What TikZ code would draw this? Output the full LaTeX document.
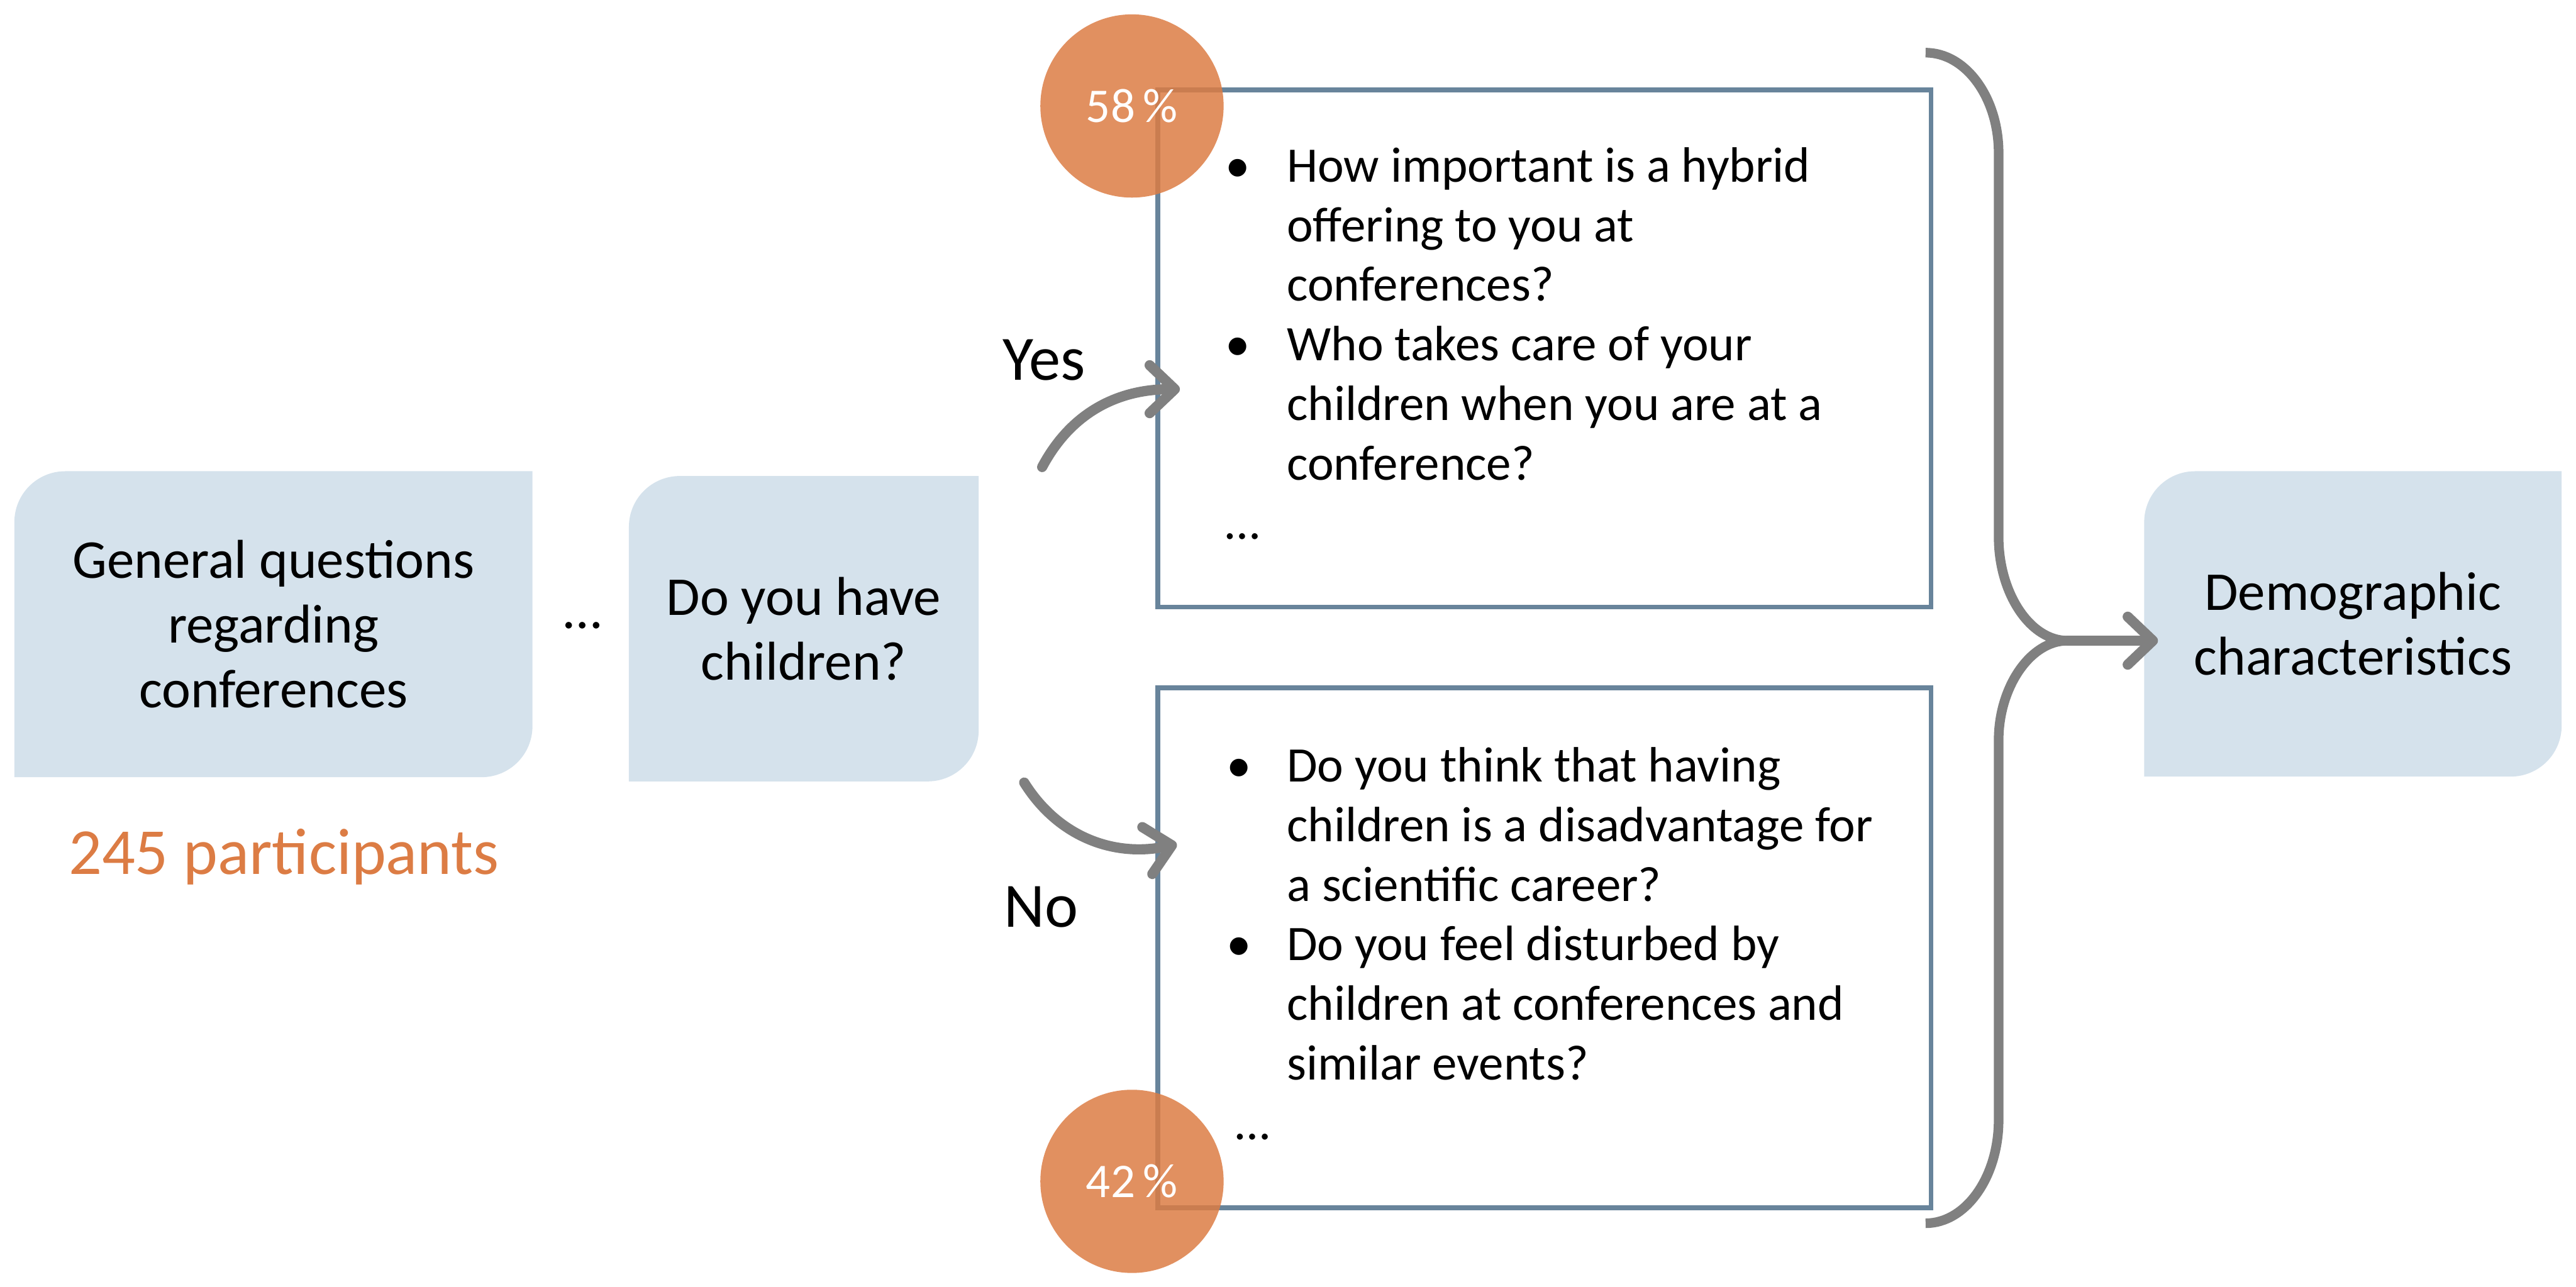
\documentclass[tikz,border=0pt]{standalone}
\usepackage{fontspec}
\setmainfont{Carlito}
\usetikzlibrary{arrows.meta}
\definecolor{leafblue}{RGB}{213,226,236}
\definecolor{framegray}{RGB}{104,132,155}
\definecolor{flowgray}{RGB}{128,128,128}
\definecolor{shareorange}{RGB}{220,124,68}

\begin{document}
\begin{tikzpicture}[
  leafbox/.style={rectangle, inner sep=0, align=center, font=\fontsize{26}{30.7}\selectfont,
    path picture={\fill[leafblue] (path picture bounding box.south west)
      -- ([yshift=-0.85cm]path picture bounding box.north west)
      arc[start angle=180,end angle=90,radius=0.85cm]
      -- (path picture bounding box.north east)
      -- ([yshift=0.85cm]path picture bounding box.south east)
      arc[start angle=0,end angle=-90,radius=0.85cm] -- cycle;}},
  qframe/.style={rectangle, draw=framegray, line width=0.08cm, minimum width=12.91cm, inner sep=0},
  qlist/.style={anchor=base west, inner sep=0, font=\fontsize{23.6}{28.3}\selectfont},
  share/.style={circle, fill=shareorange, fill opacity=0.85, text opacity=1, text=white,
    minimum size=3.06cm, inner sep=0, font=\fontsize{23}{28}\selectfont},
  answer/.style={anchor=base, inner sep=0, font=\fontsize{30}{36}\selectfont},
  flow/.style={draw=flowgray, line width=0.17cm, line cap=round,
    -{Straight Barb[length=0.42cm,width=0.8cm,round]}},
  brace/.style={draw=flowgray, line width=0.16cm}
]
\useasboundingbox (0,0) rectangle (43.01,21.49);
\node[leafbox, minimum width=8.65cm, minimum height=5.11cm] (general) at (4.565,11.065) {General questions\\regarding\\conferences};
\node[leafbox, minimum width=5.84cm, minimum height=5.10cm] (kids) at (13.42,10.99) {Do you have\\children?};
\node[leafbox, minimum width=6.97cm, minimum height=5.10cm] (demo) at (39.285,11.07) {Demographic\\characteristics};
\node[anchor=base, inner sep=0, font=\fontsize{26}{30.7}\selectfont] (skip) at (9.73,11.00) {…};
\node[answer, text=shareorange, font=\fontsize{31.2}{37}\selectfont] (total) at (4.74,6.89) {245 participants};
\node[qframe, minimum height=8.64cm] (qyes) at (25.785,15.67) {};
\node[qframe, minimum height=8.68cm] (qno) at (25.785,5.66) {};
\node[qlist] (yeslist) at (20.45,18.45) {\begin{tabular}[t]{@{}p{1.03cm}@{}l@{}}
\textbullet & How important is a hybrid\\
 & offering to you at\\
 & conferences?\\
\textbullet & Who takes care of your\\
 & children when you are at a\\
 & conference?\\
\multicolumn{2}{@{}l@{}}{…}
\end{tabular}};
\node[qlist] (nolist) at (20.47,8.43) {\begin{tabular}[t]{@{}p{1.01cm}@{}l@{}}
\textbullet & Do you think that having\\
 & children is a disadvantage for\\
 & a scientific career?\\
\textbullet & Do you feel disturbed by\\
 & children at conferences and\\
 & similar events?\\
\multicolumn{2}{@{}l@{}}{\hspace{0.15cm}…}
\end{tabular}};
\node[answer] (yes) at (17.43,15.14) {Yes};
\node[answer] (no) at (17.38,6.01) {No};
\coordinate (yesfrom) at (17.40,13.69);
\coordinate (yesto) at (19.70,14.99);
\coordinate (nofrom) at (17.10,8.42);
\coordinate (noto) at (19.65,7.39);
\draw[flow] (yesfrom) to[out=62,in=180] (yesto);
\draw[flow] (nofrom) to[out=-58,in=192] (noto);
\node[share] (yesshare) at (18.90,19.72) {58\,\%};
\node[share] (noshare) at (18.90,1.76) {42\,\%};
\coordinate (bracetop) at (32.15,20.61);
\coordinate (bracebot) at (32.15,1.06);
\coordinate (bracemid) at (34.52,10.79);
\coordinate (demoin) at (36.03,10.79);
\draw[brace] (bracetop) .. controls (32.82,20.61) and (33.37,19.86) .. (33.37,18.93) -- (33.37,12.52) .. controls (33.37,11.59) and (33.89,10.79) .. (bracemid);
\draw[brace] (bracebot) .. controls (32.82,1.06) and (33.37,1.83) .. (33.37,2.79) -- (33.37,9.13) .. controls (33.37,10.00) and (33.89,10.79) .. (bracemid);
\draw[flow] (bracemid) -- (demoin);
\end{tikzpicture}
\end{document}
